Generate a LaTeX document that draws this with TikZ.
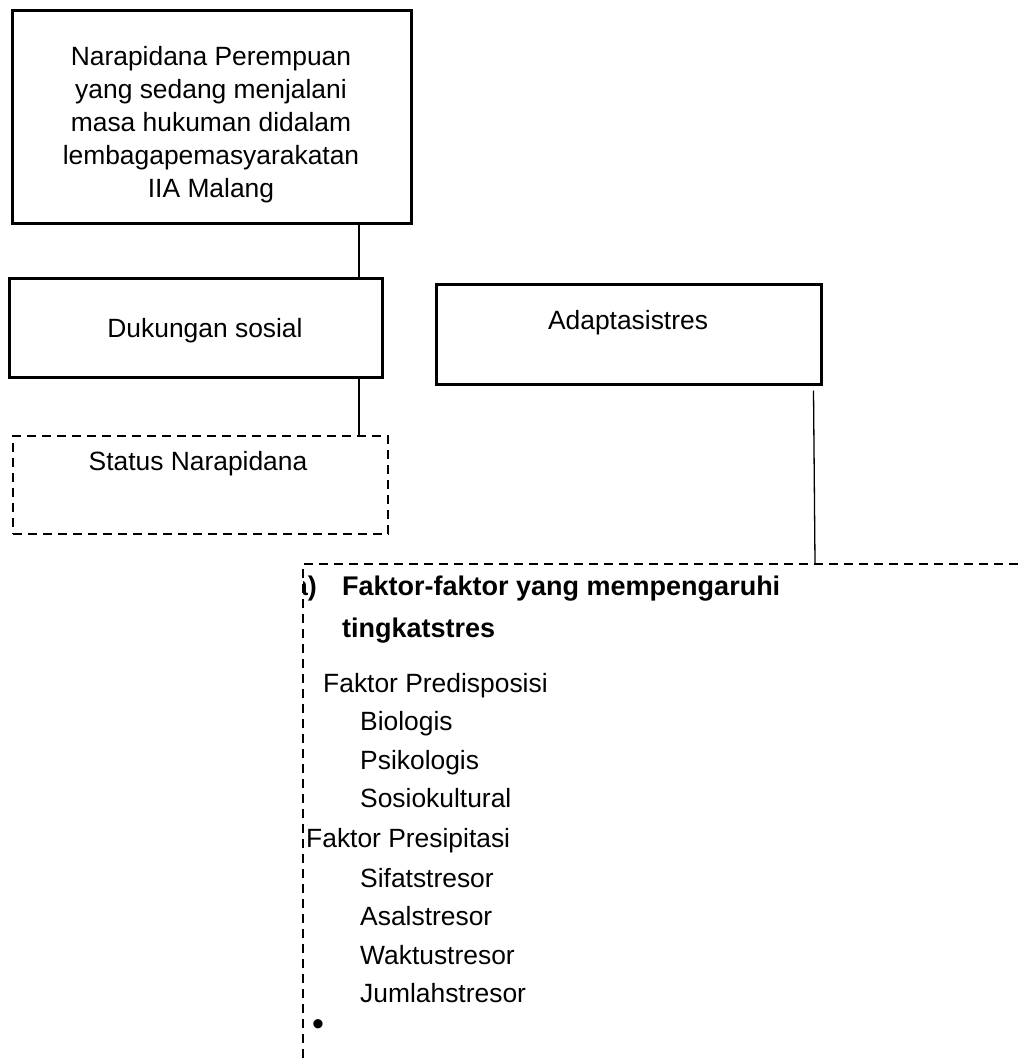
\documentclass[tikz,border=0pt]{standalone}
\usepackage{fontspec}
\setmainfont{Liberation Sans}
\usetikzlibrary{calc}
\begin{document}
\begin{tikzpicture}[x=1pt,y=-1pt,
  solidbox/.style={draw, line width=3pt, inner sep=0pt, anchor=north west},
  dashbox/.style={draw, line width=2pt, dash pattern=on 9pt off 6pt, inner sep=0pt, anchor=north west},
  conn/.style={line width=1.3pt},
  body/.style={font=\fontsize{26.4}{33}\selectfont, inner sep=0pt, anchor=base west},
  bodyb/.style={font=\fontsize{27}{33}\selectfont\bfseries, inner sep=0pt, anchor=base west}]
\useasboundingbox (0,0) rectangle (1019,1062);

% boxes
\node[solidbox, minimum width=399pt, minimum height=213pt] (top) at (11,9) {};
\node[solidbox, minimum width=373pt, minimum height=99pt] (duk) at (8,277) {};
\node[solidbox, line width=2.5pt, minimum width=385pt, minimum height=100pt] (adapt) at (435,283) {};
\node[dashbox, minimum width=375pt, minimum height=98pt] (status) at (12,435) {};
\node[dashbox, minimum width=900pt, minimum height=700pt] (big) at (302,563) {};

% box texts
\node[font=\fontsize{26.4}{33}\selectfont, align=center, inner sep=0pt, anchor=north] (toptext) at (211,46)
  {Narapidana Perempuan\\yang sedang menjalani\\masa hukuman didalam\\lembagapemasyarakatan\\IIA Malang};
\node[body, anchor=base] (duktext) at (205,337) {Dukungan sosial};
\node[body, anchor=base] (adapttext) at (628,329) {Adaptasistres};
\node[body, anchor=base] (statustext) at (198,470) {Status Narapidana};

% connectors
\coordinate (cx) at (359,0);
\coordinate (ax) at (815,0);
\draw[conn] (top.south -| cx) -- (duk.north -| cx);
\draw[conn] (duk.south -| cx) -- (status.north -| cx);
\draw[conn] ($(adapt.south east)+(-9,5)$) -- (big.north -| ax);

% list inside the big dashed box
\begin{scope}
\clip (303.5,563) rectangle (1019,1062);
\node[bodyb, anchor=base east] (lbl) at (317,595) {a)};
\end{scope}
\node[bodyb] (h1) at (342,595) {Faktor-faktor yang mempengaruhi};
\node[bodyb] (h2) at (342,637) {tingkatstres};
\node[body] (fpd) at (323,692) {Faktor Predisposisi};
\node[body] (bio) at (360,730) {Biologis};
\node[body] (psi) at (360,769) {Psikologis};
\node[body] (sos) at (360,807) {Sosiokultural};
\node[body] (fps) at (306,847) {Faktor Presipitasi};
\node[body] (sif) at (360,887) {Sifatstresor};
\node[body] (asa) at (360,925) {Asalstresor};
\node[body] (wak) at (360,964) {Waktustresor};
\node[body] (jum) at (360,1002) {Jumlahstresor};
\node[body, font=\fontsize{34}{34}\selectfont, anchor=center] (bul) at (318,1028) {\textbullet};
\end{tikzpicture}
\end{document}
